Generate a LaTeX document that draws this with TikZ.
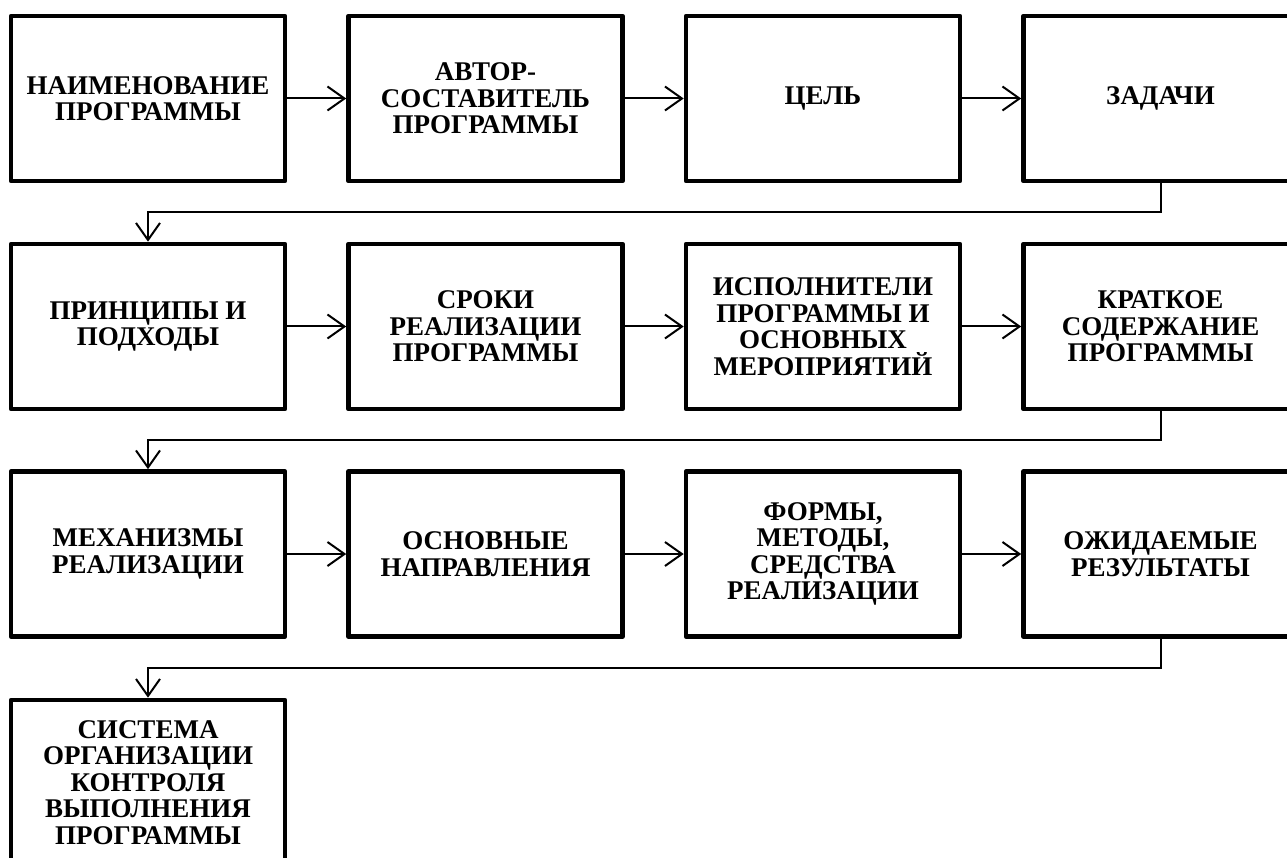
\documentclass[tikz,border=0pt]{standalone}
\usepackage{fontspec}
\setmainfont{Liberation Serif}
\usetikzlibrary{arrows.meta}
\begin{document}
\begin{tikzpicture}[x=1pt,y=-1pt,
  blk/.style={draw=black,line width=4.6pt,line join=round,rectangle,
    minimum width=274pt,minimum height=165pt,align=center,inner sep=0pt,
    font=\bfseries\fontsize{27}{26.5}\selectfont},
  link/.style={draw=black,line width=2pt,-{Straight Barb[length=17pt,width=24pt,line width=2pt]}}]
\clip (0,0) rectangle (1287,858);
\fill[white] (0,0) rectangle (1287,858);
% row 1
\node[blk] (b1) at (148,98.5) {НАИМЕНОВАНИЕ\\ПРОГРАММЫ};
\node[blk] (b2) at (485.5,98.5) {АВТОР-\\СОСТАВИТЕЛЬ\\ПРОГРАММЫ};
\node[blk] (b3) at (823,98.5) {ЦЕЛЬ};
\node[blk] (b4) at (1160.5,98.5) {ЗАДАЧИ};
% row 2
\node[blk] (b5) at (148,326.5) {ПРИНЦИПЫ И\\ПОДХОДЫ};
\node[blk] (b6) at (485.5,326.5) {СРОКИ\\РЕАЛИЗАЦИИ\\ПРОГРАММЫ};
\node[blk] (b7) at (823,326.5) {ИСПОЛНИТЕЛИ\\ПРОГРАММЫ И\\ОСНОВНЫХ\\МЕРОПРИЯТИЙ};
\node[blk] (b8) at (1160.5,326.5) {КРАТКОЕ\\СОДЕРЖАНИЕ\\ПРОГРАММЫ};
% row 3
\node[blk] (b9) at (148,554) {МЕХАНИЗМЫ\\РЕАЛИЗАЦИИ};
\node[blk] (b10) at (485.5,554) {ОСНОВНЫЕ\\НАПРАВЛЕНИЯ};
\node[blk] (b11) at (823,554) {ФОРМЫ,\\МЕТОДЫ,\\СРЕДСТВА\\РЕАЛИЗАЦИИ};
\node[blk] (b12) at (1160.5,554) {ОЖИДАЕМЫЕ\\РЕЗУЛЬТАТЫ};
% row 4
\node[blk] (b13) at (148,782.5) {СИСТЕМА\\ОРГАНИЗАЦИИ\\КОНТРОЛЯ\\ВЫПОЛНЕНИЯ\\ПРОГРАММЫ};
% arrows within rows
\foreach \a/\b in {b1/b2,b2/b3,b3/b4,b5/b6,b6/b7,b7/b8,b9/b10,b10/b11,b11/b12}
  \draw[link] (\a.east) -- (\b.west);
% row-to-row links
\draw[link] (b4.south) |- (148,212.5) -- (b5.north);
\draw[link] (b8.south) |- (148,440) -- (b9.north);
\draw[link] (b12.south) |- (148,667.5) -- (b13.north);
\end{tikzpicture}
\end{document}
